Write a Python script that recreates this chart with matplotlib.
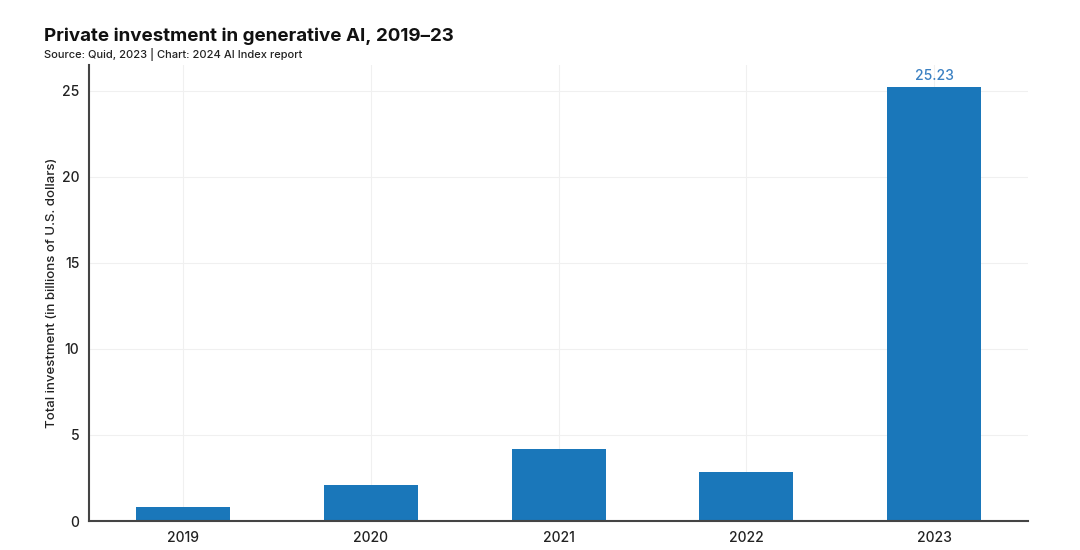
import matplotlib.pyplot as plt
import numpy as np

years = ["2019", "2020", "2021", "2022", "2023"]
investment = [0.84, 2.09, 4.17, 2.85, 25.23]

BAR_COLOR = "#1a77ba"
LABEL_COLOR = "#3a80c2"

plt.rcParams["font.family"] = ["Inter", "DejaVu Sans"]

fig = plt.figure(figsize=(10.8, 5.5), dpi=100)
ax = fig.add_axes([0.0824, 0.0527, 0.952 - 0.0824, 0.882 - 0.0527])

x = np.arange(len(years))
bars = ax.bar(x, investment, width=0.5, color=BAR_COLOR, zorder=2)

# only the last bar carries a value label
ax.annotate(
    f"{investment[-1]:.2f}",
    xy=(x[-1], investment[-1]),
    xytext=(0, 2.5),
    textcoords="offset points",
    ha="center",
    va="bottom",
    fontsize=10,
    fontweight="medium",
    color=LABEL_COLOR,
)

ax.set_xlim(-0.5, len(years) - 0.5)
ax.set_ylim(0, 26.5)
ax.set_xticks(x)
ax.set_xticklabels(years, fontweight="medium")
ax.set_yticks([0, 5, 10, 15, 20, 25])
ax.set_yticklabels([str(v) for v in [0, 5, 10, 15, 20, 25]], fontweight="medium")
ax.tick_params(length=0, labelsize=10, colors="#222222", pad=7)
ax.grid(True, color="#f0f0f0", linewidth=0.8, zorder=0)

for side in ("top", "right"):
    ax.spines[side].set_visible(False)
for side in ("left", "bottom"):
    ax.spines[side].set_color("#444444")
    ax.spines[side].set_linewidth(1.5)

ax.set_ylabel("Total investment (in billions of U.S. dollars)", fontsize=9.5,
              fontweight="medium", color="#222222", labelpad=3)

fig.text(0.041, 0.925, "Private investment in generative AI, 2019–23",
         fontsize=13.5, fontweight="bold", color="#111111")
fig.text(0.041, 0.895, "Source: Quid, 2023 | Chart: 2024 AI Index report",
         fontsize=8, fontweight="medium", color="#222222")

fig.savefig("out.png", dpi=100)
